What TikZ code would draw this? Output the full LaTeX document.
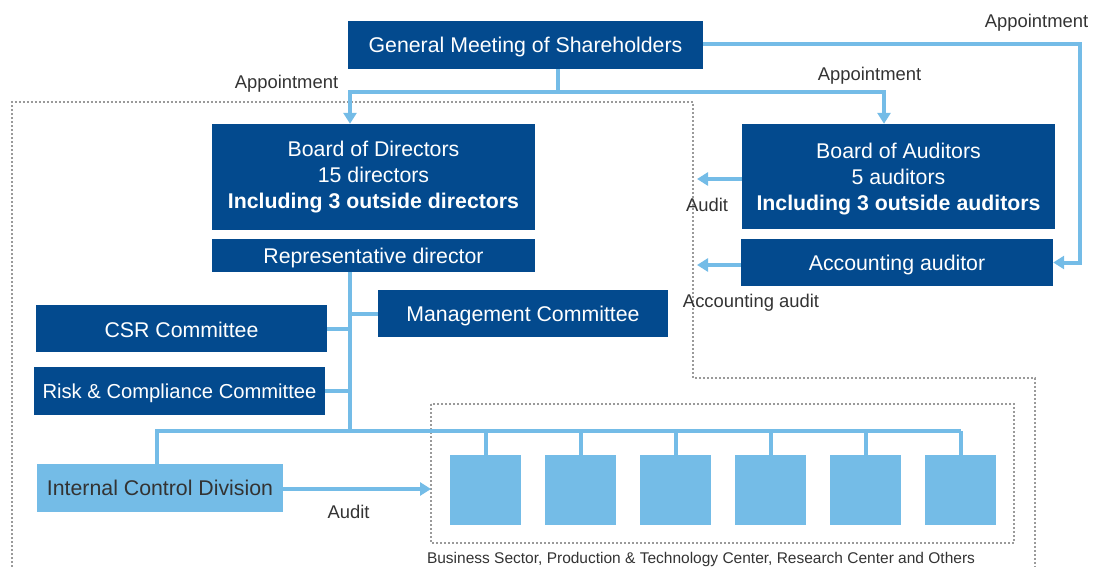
\documentclass[tikz,border=0pt]{standalone}
\usepackage{fontspec}
\setmainfont{Liberation Sans}
\usetikzlibrary{arrows.meta,calc}
\definecolor{dblue}{HTML}{034A8E}
\definecolor{lblue}{HTML}{74BCE7}
\definecolor{dgrey}{HTML}{9A9A9A}
\definecolor{tgrey}{HTML}{333333}
\begin{document}
\begin{tikzpicture}[x=1pt,y=-1pt,
 dbox/.style={fill=dblue,text=white,inner sep=0pt,font=\fontsize{21.3}{26}\selectfont,align=center},
 lowtext/.style={text depth=0pt},
 lbox/.style={fill=lblue,inner sep=0pt,minimum width=71pt,minimum height=70pt},
 conn/.style={draw=lblue,line width=4pt},
 arr/.style={conn,-{Triangle[width=13pt,length=11pt]}},
 lab/.style={text=tgrey,font=\fontsize{18.4}{20}\selectfont,inner sep=0pt},
 dots/.style={draw=dgrey,line width=1.8pt,dash pattern=on 1.8pt off 2.2pt}]
\useasboundingbox (0,0) rectangle (1094,567);

% dotted regions
\draw[dots] (12,567) -- (12,102) -- (693,102) -- (693,378) -- (1035,378) -- (1035,567);
\draw[dots] (431,404) rectangle (1014,543);

% boxes
\node[dbox,lowtext,minimum width=355pt,minimum height=48pt] (gm) at (525.5,45) {General Meeting of Shareholders};
\node[dbox,minimum width=323pt,minimum height=106pt] (bod) at (373.5,177) {Board of Directors\\15 directors\\\textbf{Including 3 outside directors}};
\node[dbox,lowtext,minimum width=323pt,minimum height=33pt] (rd) at (373.5,255.5) {Representative director};
\node[dbox,lowtext,minimum width=313pt,minimum height=105pt] (boa) at (898.5,176.5) {Board of Auditors\\5 auditors\\\textbf{Including 3 outside auditors}};
\node[dbox,lowtext,minimum width=312pt,minimum height=47pt] (aa) at (897,262.5) {Accounting auditor};
\node[dbox,lowtext,minimum width=290pt,minimum height=47pt] (mc) at (523,313.5) {Management Committee};
\node[dbox,lowtext,minimum width=291pt,minimum height=47pt] (csr) at (181.5,328.5) {\raisebox{-2.5pt}{CSR Committee}};
\node[dbox,lowtext,font=\fontsize{20.2}{26}\selectfont,minimum width=291pt,minimum height=48pt] (rc) at (179.5,391) {Risk \& Compliance Committee};
\node[dbox,lowtext,fill=lblue,text=tgrey,minimum width=246pt,minimum height=48pt] (icd) at (160,488) {Internal Control Division};
\foreach \i/\x in {1/485.5,2/580.5,3/675.5,4/770.5,5/865.5,6/960.5}
  \node[lbox] (s\i) at (\x,490) {};

% coordinates
\coordinate (j1) at (558,92);
\coordinate (jl) at (350,92);
\coordinate (jr) at (884,92);
\coordinate (tr) at (1080,44);
\coordinate (au1) at (697,179);
\coordinate (au2) at (697,265);
\coordinate (t) at (350,431);
\coordinate (bl) at (157,431);
\coordinate (ia) at (431,489);

% connectors
\draw[conn] (gm.south -| j1) -- (j1);
\draw[arr] (j1) -- (jl) -- (jl |- bod.north);
\draw[arr] (j1) -- (jr) -- (jr |- boa.north);
\draw[arr] (gm.east |- tr) -- (tr) |- (aa.east);
\draw[arr] (boa.west |- au1) -- (au1);
\draw[arr] (aa.west |- au2) -- (au2);
\draw[conn] (rd.south -| t) -- (t);
\draw[conn] (mc.west) -- (mc.west -| t);
\draw[conn] (csr.east) -- (csr.east -| t);
\draw[conn] (rc.east) -- (rc.east -| t);
\draw[conn] (icd.north -| bl) -- (bl) -- (s6.north |- t);
\foreach \i in {1,...,6} \draw[conn] (s\i.north) -- (s\i.north |- t);
\draw[arr] (icd.east |- ia) -- (ia);

% labels
\node[lab] (l1) at (286.5,84) {Appointment};
\node[lab] (l2) at (869.5,76) {Appointment};
\node[lab] (l3) at (1036.5,23) {Appointment};
\node[lab] (l4) at (707,205) {Audit};
\node[lab] (l5) at (751,303) {Accounting audit};
\node[lab] (l6) at (348.5,512) {Audit};
\node[lab,font=\fontsize{15.5}{17}\selectfont] (l7) at (701,559) {Business Sector, Production \& Technology Center, Research Center and Others};
\end{tikzpicture}
\end{document}
